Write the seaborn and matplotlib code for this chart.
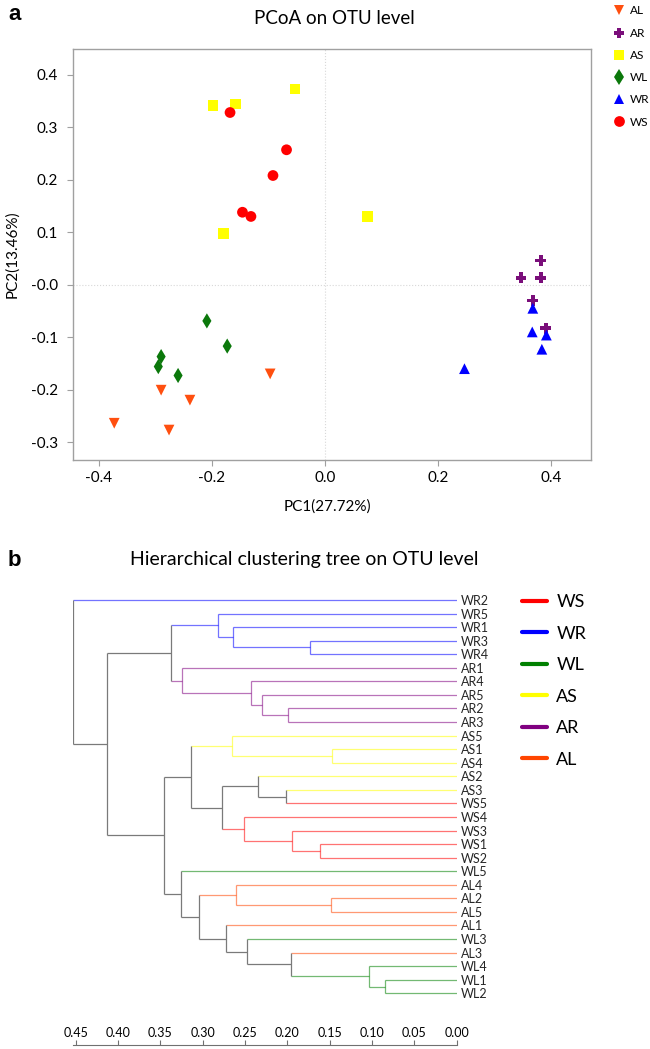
import numpy as np
import pandas as pd
import matplotlib
matplotlib.use("Agg")
import matplotlib.pyplot as plt
import seaborn as sns
from matplotlib.lines import Line2D

# ---- data: PCoA scores per group ----
groups = ["AL", "AR", "AS", "WL", "WR", "WS"]
group_colors = ["#FF4F0F", "#7A0E7A", "#FFFF00", "#0B780B", "#0000FF", "#FF0000"]
group_markers = ["v", "P", "s", "d", "^", "o"]

al_pc1 = [-0.373, -0.290, -0.239, -0.276, -0.097]
al_pc2 = [-0.264, -0.201, -0.220, -0.277, -0.170]
ar_pc1 = [0.382, 0.347, 0.382, 0.368, 0.391]
ar_pc2 = [0.046, 0.013, 0.013, -0.030, -0.083]
as_pc1 = [-0.198, -0.159, -0.053, -0.180, 0.076]
as_pc2 = [0.342, 0.344, 0.373, 0.097, 0.130]
wl_pc1 = [-0.209, -0.173, -0.290, -0.295, -0.260]
wl_pc2 = [-0.069, -0.117, -0.137, -0.156, -0.173]
wr_pc1 = [0.368, 0.367, 0.392, 0.384, 0.247]
wr_pc2 = [-0.045, -0.090, -0.096, -0.123, -0.160]
ws_pc1 = [-0.168, -0.068, -0.092, -0.146, -0.131]
ws_pc2 = [0.328, 0.257, 0.208, 0.138, 0.130]

pc1_ticks = [-0.4, -0.2, 0.0, 0.2, 0.4]
pc1_labels = ["-0.4", "-0.2", "0.0", "0.2", "0.4"]
pc2_ticks = [0.4, 0.3, 0.2, 0.1, 0.0, -0.1, -0.2, -0.3]
pc2_labels = ["0.4", "0.3", "0.2", "0.1", "-0.0", "-0.1", "-0.2", "-0.3"]

# ---- data: clustering tree ----
leaf_order = ["WR2", "WR5", "WR1", "WR3", "WR4", "AR1", "AR4", "AR5", "AR2", "AR3",
              "AS5", "AS1", "AS4", "AS2", "AS3", "WS5", "WS4", "WS3", "WS1", "WS2",
              "WL5", "AL4", "AL2", "AL5", "AL1", "WL3", "AL3", "WL4", "WL1", "WL2"]
# merges in order, new node i is called "n<i>"
node_left = ["WR3", "WR1", "WR5", "AR2", "AR5", "AR4", "AR1", "n3", "AS1", "AS5",
             "AS3", "AS2", "WS1", "WS3", "WS4", "n12", "n10", "AL2", "AL4", "WL1",
             "WL4", "AL3", "WL3", "AL1", "n19", "WL5", "n17", "n8", "WR2"]
node_right = ["WR4", "n1", "n2", "AR3", "n4", "n5", "n6", "n7", "AS4", "n9",
              "WS5", "n11", "WS2", "n13", "n14", "n15", "n16", "AL5", "n18", "WL2",
              "n20", "n21", "n22", "n23", "n24", "n25", "n26", "n27", "n28"]
node_height = [0.173, 0.264, 0.282, 0.199, 0.230, 0.243, 0.324, 0.337, 0.147, 0.265,
               0.202, 0.235, 0.161, 0.195, 0.251, 0.277, 0.314, 0.148, 0.261, 0.085,
               0.104, 0.196, 0.248, 0.273, 0.305, 0.326, 0.346, 0.413, 0.453]

scale_ticks = [0.45, 0.40, 0.35, 0.30, 0.25, 0.20, 0.15, 0.10, 0.05, 0.00]
scale_labels = ["0.45", "0.40", "0.35", "0.30", "0.25", "0.20", "0.15", "0.10", "0.05", "0.00"]

tree_legend = ["WS", "WR", "WL", "AS", "AR", "AL"]
tree_legend_colors = ["#FF0000", "#0000FF", "#008000", "#FFFF00", "#800080", "#FF4500"]

# ---- build table ----
df = pd.DataFrame({
    "PC1": al_pc1 + ar_pc1 + as_pc1 + wl_pc1 + wr_pc1 + ws_pc1,
    "PC2": al_pc2 + ar_pc2 + as_pc2 + wl_pc2 + wr_pc2 + ws_pc2,
    "group": [g for g in groups for _ in range(5)],
})

sns.set_style("white")
plt.rcParams["font.family"] = ["Lato", "DejaVu Sans"]
plt.rcParams["text.color"] = "black"
plt.rcParams["axes.labelcolor"] = "black"

W, H = 650, 1049
fig = plt.figure(figsize=(6.5, 10.49), dpi=100)

def fx(px):
    return px / W

def fy(py):
    return 1 - py / H

# ================= panel a: PCoA =================
ax1 = fig.add_axes([fx(73), fy(460), fx(591) - fx(73), fy(49) - fy(460)])
ax1.axhline(0, color="#d8d8d8", lw=0.8, ls=":", zorder=0)
ax1.axvline(0, color="#d8d8d8", lw=0.8, ls=":", zorder=0)
sns.scatterplot(data=df, x="PC1", y="PC2", hue="group", style="group",
                hue_order=groups, style_order=groups,
                palette=dict(zip(groups, group_colors)),
                markers=dict(zip(groups, group_markers)),
                s=60, linewidth=0, ax=ax1)
ax1.set_xlim(-0.446, 0.471)
ax1.set_ylim(-0.334, 0.449)
ax1.set_xticks(pc1_ticks)
ax1.set_xticklabels(pc1_labels)
ax1.set_yticks(pc2_ticks)
ax1.set_yticklabels(pc2_labels)
for sp in ax1.spines.values():
    sp.set_color("#a0a0a0")
    sp.set_linewidth(1.0)
ax1.tick_params(axis="both", colors="#a0a0a0", labelcolor="black", labelsize=11,
                length=4, width=0.8, direction="out", left=True, bottom=True)
ax1.tick_params(axis="y", pad=7)
ax1.tick_params(axis="x", pad=4)
ax1.set_xlabel("PC1(27.72%)", fontsize=11)
ax1.set_ylabel("PC2(13.46%)", fontsize=11)
ax1.xaxis.set_label_coords((327 - 73) / 518, -(507 - 460) / 411)
ax1.xaxis.label.set_va("center")
ax1.yaxis.set_label_coords((12 - 73) / 518, 0.5)
ax1.yaxis.label.set_va("center")

sns.move_legend(ax1, "upper left", bbox_to_anchor=(fx(613), fy(5.5)),
                bbox_transform=fig.transFigure, title=None, frameon=False,
                fontsize=8.5, handlelength=1.0, handletextpad=0.4,
                labelspacing=0.95, borderpad=0, borderaxespad=0)

fig.text(fx(8), fy(15), "a", fontsize=16, fontweight="bold", va="center", ha="left",
         family="Liberation Sans")
fig.text(fx(334), fy(18), "PCoA on OTU level", fontsize=13.5, va="center", ha="center")

# ================= panel b: clustering tree =================
row_h = 13.56
ax2 = fig.add_axes([fx(73.3), fy(993.3 + row_h / 2), fx(456.7) - fx(73.3),
                    fy(600 - row_h / 2) - fy(993.3 + row_h / 2)])
ax2.set_xlim(0.453, 0)
ax2.set_ylim(len(leaf_order) - 0.5, -0.5)

light = {g: c for g, c in zip(tree_legend, tree_legend_colors)}

def branch_color(member_groups):
    if len(member_groups) == 1:
        return matplotlib.colors.to_rgba(light[next(iter(member_groups))], 0.55)
    return "#7a7a7a"

pos = {name: (0.0, i) for i, name in enumerate(leaf_order)}
members = {name: {name[:2]} for name in leaf_order}
for i, (a, b, h) in enumerate(zip(node_left, node_right, node_height), start=1):
    nid = f"n{i}"
    members[nid] = members[a] | members[b]
    for c in (a, b):
        xc, yc = pos[c]
        ax2.plot([xc, h], [yc, yc], color=branch_color(members[c]), lw=0.9,
                 solid_capstyle="butt")
    ax2.plot([h, h], [pos[a][1], pos[b][1]], color=branch_color(members[nid]), lw=0.9,
             solid_capstyle="butt")
    pos[nid] = (h, (pos[a][1] + pos[b][1]) / 2)

ax2.yaxis.tick_right()
ax2.set_yticks(range(len(leaf_order)))
ax2.set_yticklabels(leaf_order)
ax2.tick_params(axis="y", length=0, pad=3, labelsize=9)
ax2.set_xticks([])
for sp in ax2.spines.values():
    sp.set_visible(False)

# scale bar under the tree
ax3 = fig.add_axes([fx(73.3), fy(1045), fx(456.7) - fx(73.3), 0.0001])
ax3.set_xlim(0.453, 0)
ax3.patch.set_visible(False)
ax3.xaxis.set_ticks_position("top")
ax3.set_xticks(scale_ticks)
ax3.set_xticklabels(scale_labels)
ax3.set_yticks([])
ax3.tick_params(axis="x", colors="#707070", labelcolor="black", labelsize=9,
                length=3.5, width=0.8, pad=1.0, direction="out")
for name, sp in ax3.spines.items():
    sp.set_visible(name == "top")
ax3.spines["top"].set_color("#707070")
ax3.spines["top"].set_linewidth(0.8)

handles = [Line2D([0], [0], color=c, lw=3) for c in tree_legend_colors]
fig.legend(handles, tree_legend, loc="upper left", bbox_to_anchor=(fx(522), fy(594)),
           frameon=False, fontsize=13, handlelength=1.4, handletextpad=0.5,
           labelspacing=0.86, borderpad=0, borderaxespad=0)

fig.text(fx(8), fy(560), "b", fontsize=16, fontweight="bold", va="center", ha="left",
         family="Liberation Sans")
fig.text(fx(304), fy(560), "Hierarchical clustering tree on OTU level", fontsize=14,
         va="center", ha="center")

fig.savefig("out.png", dpi=100)
